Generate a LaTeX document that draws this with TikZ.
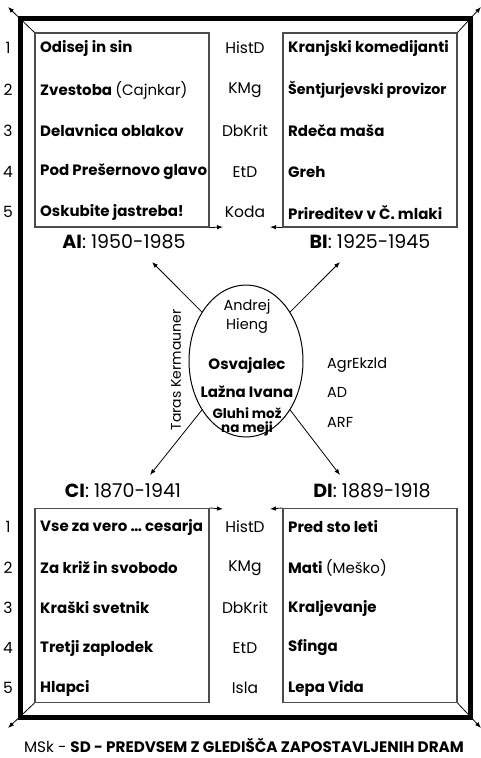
\documentclass[tikz,border=0pt]{standalone}
\usepackage{fontspec}
\setmainfont{Poppins}
\usetikzlibrary{arrows.meta,shapes.geometric}
\tikzset{
  x=1pt, y=-1pt,
  ttl/.style={font=\bfseries\fontsize{15}{17}\selectfont, anchor=west, inner sep=0pt},
  ctr/.style={font=\bfseries\fontsize{15}{14}\selectfont, inner sep=0pt, align=center},
  lab/.style={font=\fontsize{15.5}{17}\selectfont, inner sep=0pt},
  elab/.style={font=\fontsize{14.5}{16}\selectfont, inner sep=0pt},
  hdr/.style={font=\fontsize{19}{21}\selectfont, inner sep=0pt},
  boxst/.style={draw=black!70, line width=1.1pt, minimum width=174pt, minimum height=194pt, inner sep=0pt},
  arr/.style={-{Latex[length=6pt,width=4.5pt]}, line width=0.8pt},
}
\begin{document}
\begin{tikzpicture}
\useasboundingbox (0,0) rectangle (480,758);
% thick frame
\node[draw, line width=5pt, minimum width=450pt, minimum height=699pt, inner sep=0pt] (frame) at (245,367.5) {};
% boxes
\node[boxst] (boxA) at (122,130) {};
\node[boxst] (boxB) at (370,130) {};
\node[boxst] (boxC) at (122,605.5) {};
\node[boxst] (boxD) at (370,605.5) {};
% arrow end points
\coordinate (aE) at (223,227);
\coordinate (bE) at (270,227);
\coordinate (cE) at (223,509);
\coordinate (dE) at (270,509);
\coordinate (nwE) at (8,7);
\coordinate (neE) at (481,7);
\coordinate (swE) at (8,728);
\coordinate (seE) at (481,728);
\draw[arr] (boxA.south east) -- (aE);
\draw[arr] (boxB.south west) -- (bE);
\draw[arr] (boxC.north east) -- (cE);
\draw[arr] (boxD.north west) -- (dE);
\draw[arr] (boxA.north west) -- (nwE);
\draw[arr] (boxB.north east) -- (neE);
\draw[arr] (boxC.south west) -- (swE);
\draw[arr] (boxD.south east) -- (seE);
% row numbers
\foreach \i/\y in {1/48,2/90,3/131,4/172,5/212}{\node[lab] (k\i) at (8,\y) {\i};}
\foreach \i/\y in {1/527,2/568,3/608,4/648,5/688}{\node[lab] (l\i) at (8,\y) {\i};}
% box A
\node[ttl] (a1) at (40,48) {Odisej in sin};
\node[ttl] (a2) at (40,90) {Zvestoba {\mdseries (Cajnkar)}};
\node[ttl] (a3) at (40,131) {Delavnica oblakov};
\node[ttl] (a4) at (40,172) {Pod Prešernovo glavo};
\node[ttl] (a5) at (40,212) {Oskubite jastreba!};
% box B
\node[ttl] (b1) at (288,48) {Kranjski komedijanti};
\node[ttl, font=\bfseries\fontsize{14.2}{17}\selectfont] (b2) at (288,90) {Šentjurjevski provizor};
\node[ttl] (b3) at (288,131) {Rdeča maša};
\node[ttl] (b4) at (288,172) {Greh};
\node[ttl] (b5) at (288,212) {Prireditev v Č. mlaki};
% middle top
\node[lab] (m1) at (245,48) {HistD};
\node[lab] (m2) at (245,90) {KMg};
\node[lab] (m3) at (245,131) {DbKrit};
\node[lab] (m4) at (245,172) {EtD};
\node[lab] (m5) at (245,212) {Koda};
% headers
\node[hdr] (hA) at (124,242) {\textbf{AI}: 1950-1985};
\node[hdr] (hB) at (370,242) {\textbf{BI}: 1925-1945};
\node[hdr] (hC) at (123,491) {\textbf{CI}: 1870-1941};
\node[hdr] (hD) at (372,491) {\textbf{DI}: 1889-1918};
% centre ellipse
\node[draw, ellipse, line width=1pt, minimum width=114pt, minimum height=152pt, inner sep=0pt] (ell) at (246,361) {};
\node[elab] (e1) at (247,307) {Andrej};
\node[elab] (e2) at (247,326) {Hieng};
\node[ctr] (e3) at (247,365) {Osvajalec};
\node[ctr] (e4) at (247,392) {Lažna Ivana};
\node[ctr, font=\bfseries\fontsize{13.5}{13.5}\selectfont] (e5) at (247,422) {Gluhi mož\\na meji};
\node[elab, font=\fontsize{14}{16}\selectfont, rotate=90] (tk) at (176,370) {Taras Kermauner};
\node[elab, anchor=west] (r1) at (327,365) {AgrEkzld};
\node[elab, anchor=west] (r2) at (327,392) {AD};
\node[elab, anchor=west] (r3) at (327,422) {ARF};
\coordinate (nwA) at (152,262);
\coordinate (neA) at (340,262);
\coordinate (swA) at (150,475);
\coordinate (seA) at (340,475);
\draw[arr] (ell.132) -- (nwA);
\draw[arr] (ell.48) -- (neA);
\draw[arr] (ell.228) -- (swA);
\draw[arr] (ell.312) -- (seA);
% box C
\node[ttl] (c1) at (40,527) {Vse za vero … cesarja};
\node[ttl] (c2) at (40,568) {Za križ in svobodo};
\node[ttl] (c3) at (40,608) {Kraški svetnik};
\node[ttl] (c4) at (40,648) {Tretji zaplodek};
\node[ttl] (c5) at (40,688) {Hlapci};
% box D
\node[ttl] (d1) at (288,527) {Pred sto leti};
\node[ttl] (d2) at (288,568) {Mati {\mdseries (Meško)}};
\node[ttl] (d3) at (288,608) {Kraljevanje};
\node[ttl] (d4) at (288,648) {Sfinga};
\node[ttl] (d5) at (288,688) {Lepa Vida};
% middle bottom
\node[lab] (n1) at (245,527) {HistD};
\node[lab] (n2) at (245,568) {KMg};
\node[lab] (n3) at (245,608) {DbKrit};
\node[lab] (n4) at (245,648) {EtD};
\node[lab] (n5) at (245,688) {Isla};
% caption
\node[font=\fontsize{15.2}{17}\selectfont, inner sep=0pt] (cap) at (244,745) {MSk - \textbf{SD - PREDVSEM Z GLEDIŠČA ZAPOSTAVLJENIH DRAM}};
\end{tikzpicture}
\end{document}
